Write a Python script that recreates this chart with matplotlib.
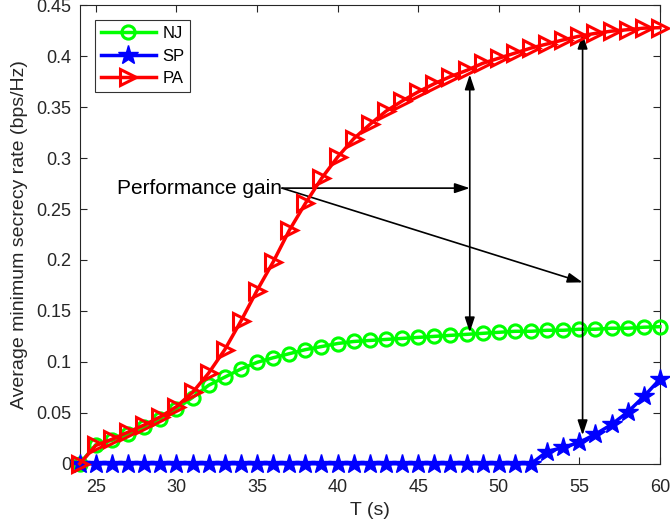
import matplotlib

matplotlib.use("Agg")
import matplotlib.pyplot as plt
from matplotlib.ticker import FuncFormatter

plt.rcParams["font.family"] = ["Liberation Sans", "DejaVu Sans"]

t = list(range(24, 61))
nj = [0.0, 0.0187, 0.023, 0.029, 0.036, 0.044, 0.054, 0.065, 0.077, 0.085,
      0.093, 0.0995, 0.104, 0.108, 0.112, 0.115, 0.118, 0.120, 0.121, 0.122,
      0.123, 0.124, 0.125, 0.126, 0.127, 0.128, 0.129, 0.130, 0.130, 0.131,
      0.131, 0.132, 0.132, 0.133, 0.133, 0.134, 0.1345]
sp = [0.0] * 29 + [0.012, 0.016, 0.021, 0.029, 0.0386, 0.0507, 0.066, 0.083]
pa = [0.0, 0.018, 0.024, 0.031, 0.038, 0.046, 0.056, 0.070, 0.089, 0.112,
      0.140, 0.170, 0.198, 0.229, 0.2555, 0.280, 0.301, 0.319, 0.333, 0.346,
      0.356, 0.365, 0.373, 0.380, 0.386, 0.393, 0.398, 0.403, 0.408, 0.412,
      0.416, 0.4197, 0.4224, 0.4246, 0.426, 0.4275, 0.428]

label_xy = (36.55, 0.2705)
gain_left = (48.2, 0.129, 0.382)
gain_right = (55.2, 0.028, 0.422)

dark = (0.15, 0.15, 0.15)

fig = plt.figure(figsize=(6.7, 5.24), dpi=100)
ax = fig.add_axes([0.119, 0.115, 0.866, 0.875])

ax.plot(t, nj, "-o", color=(0, 1, 0), lw=2.5, ms=9.5, mfc="none", mew=2.2,
        label="NJ", clip_on=False, zorder=3)
ax.plot(t, sp, "-*", color=(0, 0, 1), lw=2.5, ms=15, label="SP",
        clip_on=False, zorder=4)
ax.plot(t, pa, "->", color=(1, 0, 0), lw=2.5, ms=11.5, mfc="none", mew=2.2,
        label="PA", clip_on=False, zorder=5)

ax.set_xlim(24, 60)
ax.set_ylim(0, 0.45)
ax.set_xticks(range(25, 61, 5))
ax.set_yticks([i * 0.05 for i in range(10)])
ax.yaxis.set_major_formatter(FuncFormatter(lambda v, p: f"{v:g}"))
ax.tick_params(direction="in", top=True, right=True, labelsize=13,
               colors=dark, length=5)
ax.tick_params(axis="x", pad=11)
ax.tick_params(axis="y", pad=6)
for s in ax.spines.values():
    s.set_color(dark)
    s.set_linewidth(0.8)
ax.set_xlabel("T (s)", fontsize=14, color=dark, labelpad=4)
ax.set_ylabel("Average minimum secrecy rate (bps/Hz)", fontsize=14, color=dark,
              labelpad=6)

leg = ax.legend(loc="upper left", fontsize=12, frameon=True, fancybox=False,
                edgecolor="black", handlelength=3.3, borderaxespad=0.9,
                handletextpad=0.4, borderpad=0.35, labelspacing=0.45)
leg.get_frame().set_linewidth(0.8)
leg.set_zorder(10)

ax.text(label_xy[0], label_xy[1], "Performance gain", fontsize=15,
        ha="right", va="center", zorder=6)
head = dict(arrowstyle="-|>,head_length=0.9,head_width=0.3", color="black",
            lw=1.2, shrinkA=0, shrinkB=0)
both = dict(arrowstyle="<|-|>,head_length=0.9,head_width=0.3", color="black",
            lw=1.2, shrinkA=0, shrinkB=0)
ax.annotate("", xy=(gain_left[0], label_xy[1]), xytext=label_xy, arrowprops=head)
ax.annotate("", xy=(gain_right[0], 0.178), xytext=label_xy, arrowprops=head)
ax.annotate("", xy=(gain_left[0], gain_left[2]), xytext=(gain_left[0], gain_left[1]),
            arrowprops=both)
ax.annotate("", xy=(gain_right[0], gain_right[2]), xytext=(gain_right[0], gain_right[1]),
            arrowprops=both)

fig.savefig("out.png", dpi=100)
